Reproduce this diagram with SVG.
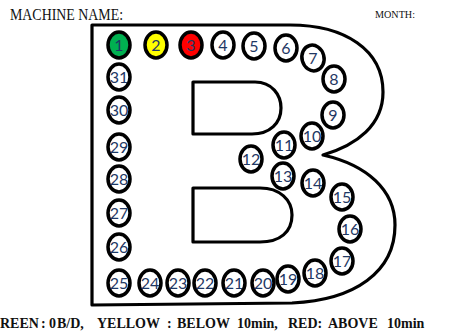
<svg xmlns="http://www.w3.org/2000/svg" width="471" height="334" viewBox="0 0 471 334">
<style>
.outline{fill:none;stroke:#000;stroke-width:3.2;stroke-linejoin:round}
.n ellipse{fill:#fff;stroke:#000;stroke-width:3.5}
.n text{font-family:Lato,"Open Sans",sans-serif;font-size:16px;fill:#1f3864;text-anchor:middle}
.hdr{font-family:"Liberation Serif",serif;fill:#111}
.legend{font-family:"Liberation Serif",serif;font-weight:bold;font-size:14px;fill:#111}
</style>
<rect width="471" height="334" fill="#fff"/>
<text class="hdr" x="10" y="20" font-size="16" textLength="113" lengthAdjust="spacingAndGlyphs">MACHINE NAME:</text>
<text class="hdr" x="375" y="17.5" font-size="11" textLength="40" lengthAdjust="spacingAndGlyphs">MONTH:</text>
<g id="letter-b">
<path class="outline" d="M92 25 L290 25 C345 25 383 50 383 92 C383 125 357 145 323 155 C367 165 395 190 395 225 C395 272 355 300 292 303 L92 305 Z"/>
<path class="outline" d="M193 82 L255 82 C272 82 281 95 281 108 C281 123 270 134 252 134 L193 134 Z"/>
<path class="outline" d="M193 188 L260 188 C280 188 292 200 292 215 C292 232 280 242 260 242 L193 242 Z"/>
</g>
<g id="n1" class="n"><ellipse cx="119" cy="45" rx="11" ry="13" style="fill:#00b050"/><text x="119" y="51">1</text></g>
<g id="n2" class="n"><ellipse cx="156" cy="45" rx="11" ry="13" style="fill:#ffff00"/><text x="156" y="51">2</text></g>
<g id="n3" class="n"><ellipse cx="191" cy="45" rx="11" ry="13" style="fill:#ff0000"/><text x="191" y="51">3</text></g>
<g id="n4" class="n"><ellipse cx="223" cy="45" rx="11" ry="13"/><text x="223" y="51">4</text></g>
<g id="n5" class="n"><ellipse cx="254" cy="46" rx="11" ry="13"/><text x="254" y="52">5</text></g>
<g id="n6" class="n"><ellipse cx="286" cy="48" rx="11" ry="13"/><text x="286" y="54">6</text></g>
<g id="n7" class="n"><ellipse cx="313" cy="58" rx="11" ry="13" transform="rotate(-15 313 58)"/><text x="313" y="64">7</text></g>
<g id="n8" class="n"><ellipse cx="334" cy="79" rx="11" ry="13"/><text x="334" y="85">8</text></g>
<g id="n9" class="n"><ellipse cx="333" cy="115" rx="11" ry="13"/><text x="333" y="121">9</text></g>
<g id="n10" class="n"><ellipse cx="312" cy="136" rx="11" ry="13"/><text x="312" y="142">10</text></g>
<g id="n11" class="n"><ellipse cx="284" cy="145" rx="11" ry="13"/><text x="284" y="151">11</text></g>
<g id="n12" class="n"><ellipse cx="251" cy="159" rx="11" ry="13"/><text x="251" y="165">12</text></g>
<g id="n13" class="n"><ellipse cx="283" cy="176" rx="11" ry="13"/><text x="283" y="182">13</text></g>
<g id="n14" class="n"><ellipse cx="313" cy="183" rx="11" ry="13"/><text x="313" y="189">14</text></g>
<g id="n15" class="n"><ellipse cx="342" cy="197" rx="11" ry="13"/><text x="342" y="203">15</text></g>
<g id="n16" class="n"><ellipse cx="350" cy="229" rx="11" ry="13"/><text x="350" y="235">16</text></g>
<g id="n17" class="n"><ellipse cx="342" cy="261" rx="11" ry="13"/><text x="342" y="267">17</text></g>
<g id="n18" class="n"><ellipse cx="315" cy="273" rx="11" ry="13"/><text x="315" y="279">18</text></g>
<g id="n19" class="n"><ellipse cx="288" cy="279" rx="11" ry="13"/><text x="288" y="285">19</text></g>
<g id="n20" class="n"><ellipse cx="263" cy="283" rx="11" ry="13"/><text x="263" y="289">20</text></g>
<g id="n21" class="n"><ellipse cx="234" cy="283" rx="11" ry="13"/><text x="234" y="289">21</text></g>
<g id="n22" class="n"><ellipse cx="205" cy="283" rx="11" ry="13"/><text x="205" y="289">22</text></g>
<g id="n23" class="n"><ellipse cx="178" cy="283" rx="11" ry="13"/><text x="178" y="289">23</text></g>
<g id="n24" class="n"><ellipse cx="150" cy="283" rx="11" ry="13"/><text x="150" y="289">24</text></g>
<g id="n25" class="n"><ellipse cx="119" cy="283" rx="11" ry="13"/><text x="119" y="289">25</text></g>
<g id="n26" class="n"><ellipse cx="119" cy="247" rx="11" ry="13"/><text x="119" y="253">26</text></g>
<g id="n27" class="n"><ellipse cx="119" cy="213" rx="11" ry="13"/><text x="119" y="219">27</text></g>
<g id="n28" class="n"><ellipse cx="119" cy="179" rx="11" ry="13"/><text x="119" y="185">28</text></g>
<g id="n29" class="n"><ellipse cx="119" cy="147" rx="11" ry="13"/><text x="119" y="153">29</text></g>
<g id="n30" class="n"><ellipse cx="119" cy="110" rx="11" ry="13"/><text x="119" y="116">30</text></g>
<g id="n31" class="n"><ellipse cx="119" cy="77" rx="11" ry="13"/><text x="119" y="83">31</text></g>
<text class="legend" y="328"><tspan x="0">REEN</tspan><tspan x="41">:</tspan><tspan x="49">0</tspan><tspan x="57">B/D,</tspan><tspan x="97">YELLOW</tspan><tspan x="167">:</tspan><tspan x="177">BELOW</tspan><tspan x="237">10min,</tspan><tspan x="288">RED:</tspan><tspan x="328">ABOVE</tspan><tspan x="387">10min</tspan></text>
</svg>
